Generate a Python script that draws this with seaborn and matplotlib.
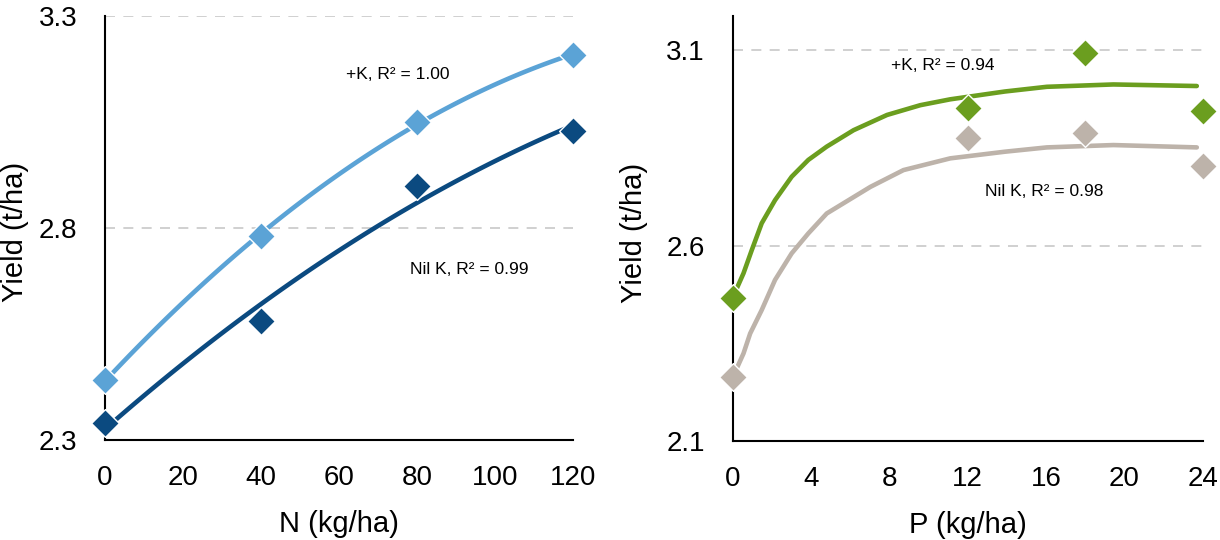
import numpy as np
import pandas as pd
import matplotlib.pyplot as plt
import seaborn as sns

# colours
LIGHT_BLUE = '#5BA3D6'
DARK_BLUE = '#0B4A80'
GREEN = '#6B9E1F'
TAUPE = '#BDB3AA'
GRID = '#C8C8C8'

# ── data: N response (left panel) ─────────────────────────
n_rate = [0, 40, 80, 120]
n_plus_k = [2.441, 2.781, 3.050, 3.208]
n_nil_k = [2.339, 2.581, 2.899, 3.029]

# ── data: P response (right panel) ─────────────────────────
p_rate = [0, 12, 18, 24]
p_plus_k = [2.467, 2.951, 3.092, 2.945]
p_nil_k = [2.263, 2.874, 2.887, 2.803]

# fitted curves
p_fit_x = [0, 0.55, 0.97, 1.48, 2.16, 3.01, 3.86, 4.8, 6.17, 7.88, 9.58,
           11.11, 13.9, 16.04, 19.44, 23.7]
p_fit_plus_k = [2.467, 2.529, 2.588, 2.657, 2.716, 2.776, 2.819, 2.853,
                2.895, 2.934, 2.959, 2.974, 2.994, 3.006, 3.012, 3.008]
p_fit_nil_x = [0, 0.55, 0.89, 1.48, 2.16, 3.01, 3.86, 4.8, 7.03, 8.72,
               11.11, 13.9, 16.04, 19.44, 23.7]
p_fit_nil_k = [2.263, 2.324, 2.375, 2.435, 2.512, 2.580, 2.631, 2.682,
               2.750, 2.793, 2.823, 2.840, 2.851, 2.857, 2.851]

sns.set_style('white')
plt.rcParams['font.family'] = ['Liberation Sans', 'DejaVu Sans']
plt.rcParams['text.color'] = 'black'
plt.rcParams['axes.labelcolor'] = 'black'
plt.rcParams['xtick.color'] = 'black'
plt.rcParams['ytick.color'] = 'black'

fig = plt.figure(figsize=(12.2, 5.4), dpi=100)
ax1 = fig.add_axes([0.0861, 0.1852, 0.3836, 0.7852])
ax2 = fig.add_axes([0.6006, 0.1833, 0.3852, 0.7870])

marker_kws = dict(s=200, edgecolor='white', linewidths=1, alpha=1,
                  clip_on=False, zorder=4)

# left panel: quadratic trendlines
for y, col in [(n_plus_k, LIGHT_BLUE), (n_nil_k, DARK_BLUE)]:
    sns.regplot(x=n_rate, y=y, order=2, ci=None, ax=ax1, color=col,
                marker='D', scatter_kws=dict(marker_kws, color=col),
                line_kws=dict(linewidth=3.3, zorder=3))

# right panel
sns.lineplot(x=p_fit_x, y=p_fit_plus_k, ax=ax2, color=GREEN,
             linewidth=3.3, zorder=3)
sns.lineplot(x=p_fit_nil_x, y=p_fit_nil_k, ax=ax2, color=TAUPE,
             linewidth=3.3, zorder=3)
ax2.scatter(p_rate, p_plus_k, color=GREEN, marker='D', **marker_kws)
ax2.scatter(p_rate, p_nil_k, color=TAUPE, marker='D', **marker_kws)

ax1.set_xlim(0, 120)
ax1.set_ylim(2.3, 3.3)
ax1.set_xticks(range(0, 121, 20))
ax1.set_yticks([2.3, 2.8, 3.3])
ax1.set_xlabel('N (kg/ha)', fontsize=21, labelpad=14)
ax1.set_ylabel('Yield (t/ha)', fontsize=21)
ax1.yaxis.set_label_coords(-0.162, 0.49)

ax2.set_xlim(0, 24)
ax2.set_ylim(2.1, 3.187)
ax2.set_xticks(range(0, 25, 4))
ax2.set_yticks([2.1, 2.6, 3.1])
ax2.set_xlabel('P (kg/ha)', fontsize=21, labelpad=14)
ax2.set_ylabel('Yield (t/ha)', fontsize=21)
ax2.yaxis.set_label_coords(-0.181, 0.49)

for ax in (ax1, ax2):
    for s in ['top', 'right']:
        ax.spines[s].set_visible(False)
    for s in ['left', 'bottom']:
        ax.spines[s].set_color('black')
        ax.spines[s].set_linewidth(1.5)
    ax.tick_params(axis='both', length=0, labelsize=20, pad=20)
    ax.tick_params(axis='x', pad=18)
    ax.grid(axis='y', linestyle=(0, (6, 5)), color=GRID, linewidth=1.2)
    ax.grid(axis='x', visible=False)
    ax.set_axisbelow(True)

ax1.set_yticklabels(['2.3', '2.8', '3.3'])
ax2.set_yticklabels(['2.1', '2.6', '3.1'])

ax1.text(75, 3.163, '+K, R² = 1.00', fontsize=12.5, ha='center', va='center')
ax1.text(93.3, 2.703, 'Nil K, R² = 0.99', fontsize=12.5, ha='center', va='center')
ax2.text(10.75, 3.06, '+K, R² = 0.94', fontsize=12.5, ha='center', va='center')
ax2.text(15.9, 2.737, 'Nil K, R² = 0.98', fontsize=12.5, ha='center', va='center')

fig.savefig('out.png', dpi=100)
